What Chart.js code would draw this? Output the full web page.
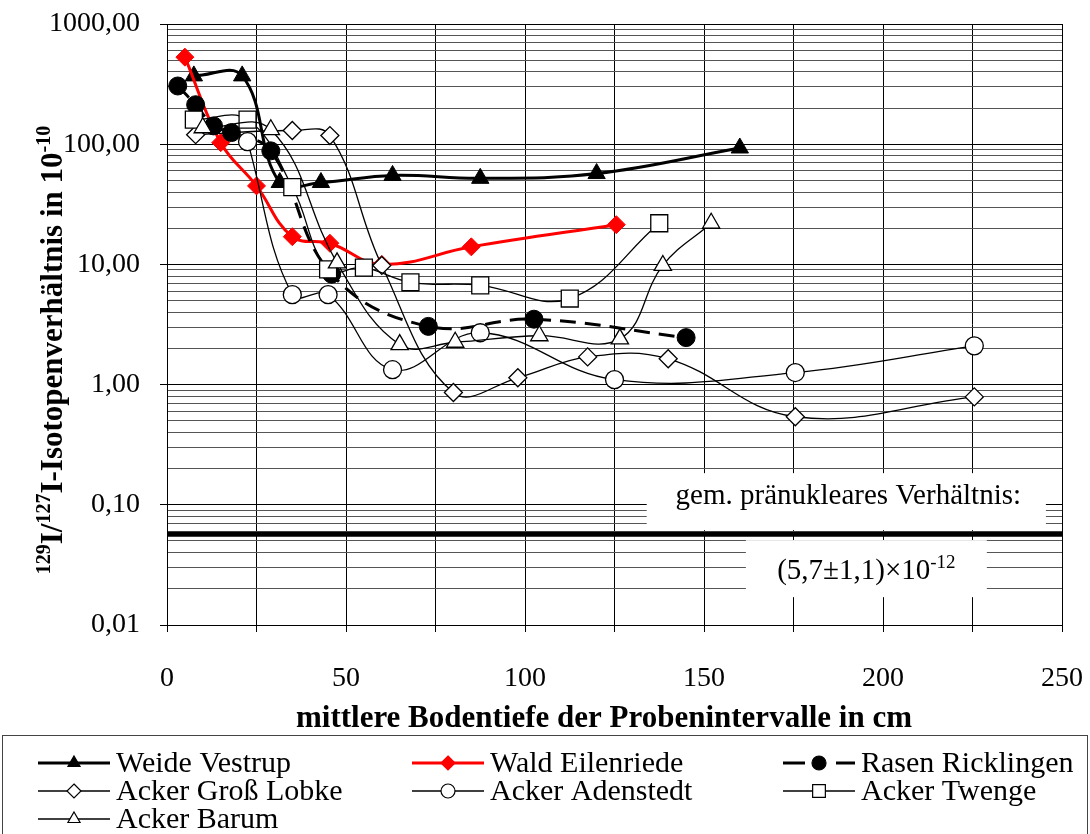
<!DOCTYPE html>
<html>
<head>
<meta charset="utf-8">
<script src="https://cdn.jsdelivr.net/npm/chart.js@4"></script>
<style>
  html, body { margin: 0; padding: 0; background: #fff; }
  #wrap { width: 1090px; height: 834px; position: relative; }
</style>
</head>
<body>
<div id="wrap"><canvas id="c" width="1090" height="834"></canvas></div>
<script>
// depth (cm) and 129I/127I ratio (in 1e-10) per site
const seriesNames = ['Weide Vestrup', 'Wald Eilenriede', 'Rasen Ricklingen', 'Acker Groß Lobke',
  'Acker Adenstedt', 'Acker Twenge', 'Acker Barum'];

const weideX = [7.5, 21, 31.5, 43, 63, 87.5, 120, 160];
const weideY = [370, 370, 48, 48, 55, 52, 57, 93];
const waldX = [5, 15, 25, 35, 45.5, 60, 85, 125.5];
const waldY = [530, 103, 45, 17, 15, 10, 14, 21.4];
const rasenX = [3, 8, 13, 18, 29, 46, 73, 102.5, 145];
const rasenY = [305, 213, 142, 125, 88, 8.3, 3.05, 3.5, 2.46];
const lobkeX = [8, 35, 45.5, 60, 80, 98, 117.5, 140, 175.5, 225.5];
const lobkeY = [120, 130, 118, 9.8, 0.86, 1.14, 1.7, 1.64, 0.54, 0.79];
const adenX = [22.5, 35, 45, 63, 87.5, 125, 175.5, 225.5];
const adenY = [105, 5.6, 5.6, 1.33, 2.7, 1.1, 1.26, 2.1];
const twengeX = [7.5, 22.5, 35, 45, 55, 68, 87.5, 112.5, 137.5];
const twengeY = [160, 160, 44, 9.1, 9.4, 7.1, 6.7, 5.2, 22];
const barumX = [10, 29, 47.5, 65, 80.5, 104, 126.5, 138.5, 152];
const barumY = [137, 132, 10.3, 2.15, 2.25, 2.55, 2.4, 9.8, 22];

// pre-nuclear ratio 5.7e-12 = 0.057e-10
const prenuclear = 0.057;
const prenuclearX = [0, 250];

const xTickValues = [0, 25, 50, 75, 100, 125, 150, 175, 200, 225, 250];
const xTickLabels = ['0', '', '50', '', '100', '', '150', '', '200', '', '250'];
const yMajorValues = [0.01, 0.1, 1, 10, 100, 1000];
const yTickLabels = ['0,01', '0,10', '1,00', '10,00', '100,00', '1000,00'];

const noteTop = 'gem. pränukleares Verhältnis:';
const noteBottom = '(5,7±1,1)×10';
const noteBottomSup = '-12';

const serif = '"Liberation Serif", "Times New Roman", serif';
Chart.defaults.font.family = serif;
Chart.defaults.color = '#000';

function pts(xs, ys) { return xs.map((x, i) => ({ x: x, y: ys[i] })); }

function isMajor(v) {
  const l = Math.log10(v);
  return Math.abs(l - Math.round(l)) < 1e-6;
}

// all log ticks 1..9 per decade
const yTickValues = [];
for (let d = 0; d < yMajorValues.length - 1; d++) {
  for (let m = 1; m <= 9; m++) yTickValues.push(m * yMajorValues[d]);
}
yTickValues.push(yMajorValues[yMajorValues.length - 1]);

const styles = [
  { color: '#000', width: 3, point: 'triangle', r: 10, fill: '#000' },
  { color: '#ff0000', width: 3, point: 'rectRot', r: 9, fill: '#ff0000' },
  { color: '#000', width: 3, point: 'circle', r: 9, fill: '#000', dash: [16, 9] },
  { color: '#000', width: 1.3, point: 'rectRot', r: 9, fill: '#fff' },
  { color: '#000', width: 1.3, point: 'circle', r: 9, fill: '#fff' },
  { color: '#000', width: 1.3, point: 'rect', r: 12, fill: '#fff' },
  { color: '#000', width: 1.3, point: 'triangle', r: 10, fill: '#fff' }
];
const seriesData = [
  pts(weideX, weideY), pts(waldX, waldY), pts(rasenX, rasenY), pts(lobkeX, lobkeY),
  pts(adenX, adenY), pts(twengeX, twengeY), pts(barumX, barumY)
];

const datasets = seriesNames.map((name, i) => ({
  label: name,
  data: seriesData[i],
  showLine: true,
  tension: 0.4,
  borderColor: styles[i].color,
  borderWidth: styles[i].width,
  borderDash: styles[i].dash || [],
  pointStyle: styles[i].point,
  pointRadius: styles[i].r,
  pointBackgroundColor: styles[i].fill,
  pointBorderColor: i === 1 ? '#ff0000' : '#000',
  pointBorderWidth: i < 3 ? 1 : 1.3,
  order: 10 - i
}));
datasets.push({
  label: 'prenuclear',
  data: prenuclearX.map(x => ({ x: x, y: prenuclear })),
  showLine: true,
  borderColor: '#000',
  borderWidth: 5,
  pointRadius: 0,
  order: 20
});

function drawRich(ctx, parts, x, y, size, supSize, weight) {
  let cx = x;
  parts.forEach(p => {
    ctx.font = weight + ' ' + (p.sup ? supSize : size) + 'px ' + serif;
    ctx.fillText(p.t, cx, p.sup ? y - size * 0.4 : y);
    cx += ctx.measureText(p.t).width;
  });
  return cx - x;
}
function richWidth(ctx, parts, size, supSize, weight) {
  let w = 0;
  parts.forEach(p => {
    ctx.font = weight + ' ' + (p.sup ? supSize : size) + 'px ' + serif;
    w += ctx.measureText(p.t).width;
  });
  return w;
}

function drawMarker(ctx, style, x, y, r, fill, stroke) {
  ctx.beginPath();
  if (style === 'triangle') {
    ctx.moveTo(x, y - r);
    ctx.lineTo(x + r * 0.866, y + r * 0.5);
    ctx.lineTo(x - r * 0.866, y + r * 0.5);
    ctx.closePath();
  } else if (style === 'rectRot') {
    ctx.moveTo(x, y - r); ctx.lineTo(x + r, y); ctx.lineTo(x, y + r); ctx.lineTo(x - r, y);
    ctx.closePath();
  } else if (style === 'rect') {
    const s = r * 0.707;
    ctx.rect(x - s, y - s, 2 * s, 2 * s);
  } else {
    ctx.arc(x, y, r, 0, Math.PI * 2);
  }
  ctx.fillStyle = fill;
  ctx.fill();
  ctx.lineWidth = 1.2;
  ctx.strokeStyle = stroke;
  ctx.setLineDash([]);
  ctx.stroke();
}

function noPadding(scale) {
  scale.paddingTop = 0;
  scale.paddingBottom = 0;
  scale.paddingLeft = 0;
  scale.paddingRight = 0;
}

const extras = {
  id: 'extras',
  beforeDatasetsDraw(chart) {
    const { ctx, scales: { x, y } } = chart;
    const yl = y.getPixelForValue(prenuclear);
    ctx.save();
    ctx.fillStyle = '#fff';
    const b1l = x.getPixelForValue(134), b1r = x.getPixelForValue(245.5);
    ctx.fillRect(b1l, yl - 61, b1r - b1l, 57);
    const b2l = x.getPixelForValue(161.7), b2r = x.getPixelForValue(229);
    ctx.fillRect(b2l, yl + 6, b2r - b2l, 57);
    ctx.fillStyle = '#000';
    ctx.textBaseline = 'alphabetic';
    ctx.textAlign = 'center';
    ctx.font = '29px ' + serif;
    ctx.fillText(noteTop, (b1l + b1r) / 2 + 2, yl - 30);
    ctx.textAlign = 'left';
    const parts = [{ t: noteBottom }, { t: noteBottomSup, sup: true }];
    const w = richWidth(ctx, parts, 29, 19, 'normal');
    drawRich(ctx, parts, (b2l + b2r) / 2 - w / 2, yl + 45, 29, 19, 'normal');
    ctx.restore();
  },
  afterDraw(chart) {
    const ctx = chart.ctx;
    ctx.save();
    ctx.fillStyle = '#000';
    ctx.textBaseline = 'alphabetic';
    // x title
    ctx.textAlign = 'center';
    ctx.font = 'bold 31px ' + serif;
    ctx.fillText('mittlere Bodentiefe der Probenintervalle in cm', 604, 727);
    // y title, rotated
    ctx.textAlign = 'left';
    const parts = [{ t: '129', sup: true }, { t: 'I/' }, { t: '127', sup: true },
      { t: 'I-Isotopenverhältnis in 10' }, { t: '-10', sup: true }];
    const w = richWidth(ctx, parts, 31, 20, 'bold');
    ctx.translate(62, 350);
    ctx.rotate(-Math.PI / 2);
    drawRich(ctx, parts, -w / 2, 0, 31, 20, 'bold');
    ctx.restore();

    // legend box
    ctx.save();
    ctx.strokeStyle = '#444';
    ctx.lineWidth = 1;
    ctx.strokeRect(2.5, 735.5, 1085, 110);
    const cols = [38, 412, 783];
    const rows = [763, 791, 819];
    ctx.font = '30px ' + serif;
    ctx.textBaseline = 'alphabetic';
    ctx.textAlign = 'left';
    seriesNames.forEach((name, i) => {
      const cx = cols[i % 3], cy = rows[Math.floor(i / 3)];
      const s = styles[i];
      ctx.strokeStyle = s.color;
      ctx.lineWidth = s.width;
      ctx.setLineDash(s.dash ? [22, 16, 3, 12] : []);
      ctx.beginPath();
      ctx.moveTo(cx, cy);
      ctx.lineTo(cx + 72, cy);
      ctx.stroke();
      ctx.setLineDash([]);
      const mr = s.point === 'rect' ? 9 : 7;
      drawMarker(ctx, s.point, cx + 36, cy, mr, s.fill, i === 1 ? '#ff0000' : '#000');
      ctx.fillStyle = '#000';
      ctx.fillText(name, cx + 78, cy + 9);
    });
    ctx.restore();
  }
};

new Chart(document.getElementById('c'), {
  type: 'scatter',
  data: { datasets: datasets },
  options: {
    responsive: false,
    animation: false,
    events: [],
    layout: { padding: { top: 24, right: 28, left: 0, bottom: 0 } },
    plugins: { legend: { display: false }, tooltip: { enabled: false } },
    scales: {
      x: {
        type: 'linear',
        min: 0,
        max: 250,
        afterBuildTicks: (scale) => { scale.ticks = xTickValues.map(v => ({ value: v })); },
        afterFit: (scale) => { scale.height = 209; noPadding(scale); },
        ticks: {
          autoSkip: false,
          maxRotation: 0,
          padding: 30,
          font: { size: 28 },
          color: '#000',
          callback: (v) => xTickLabels[xTickValues.indexOf(v)]
        },
        grid: { color: '#000', tickColor: '#000', tickLength: 7, lineWidth: 1 },
        border: { color: '#000', width: 1 }
      },
      y: {
        type: 'logarithmic',
        min: 0.01,
        max: 1000,
        afterBuildTicks: (scale) => { scale.ticks = yTickValues.map(v => ({ value: v, major: isMajor(v) })); },
        afterFit: (scale) => { scale.width = 167; noPadding(scale); },
        ticks: {
          autoSkip: false,
          padding: 20,
          font: { size: 28 },
          color: '#000',
          callback: (v) => {
            if (!isMajor(v)) return '';
            const i = yMajorValues.findIndex(m => Math.abs(Math.log10(m) - Math.log10(v)) < 1e-6);
            return yTickLabels[i];
          }
        },
        grid: {
          color: (c) => (c.tick && isMajor(c.tick.value)) ? '#000' : '#555',
          tickColor: (c) => (c.tick && isMajor(c.tick.value)) ? '#000' : 'rgba(0,0,0,0)',
          tickLength: 7,
          lineWidth: 1
        },
        border: { color: '#000', width: 1 }
      }
    }
  },
  plugins: [extras]
});
</script>
</body>
</html>
